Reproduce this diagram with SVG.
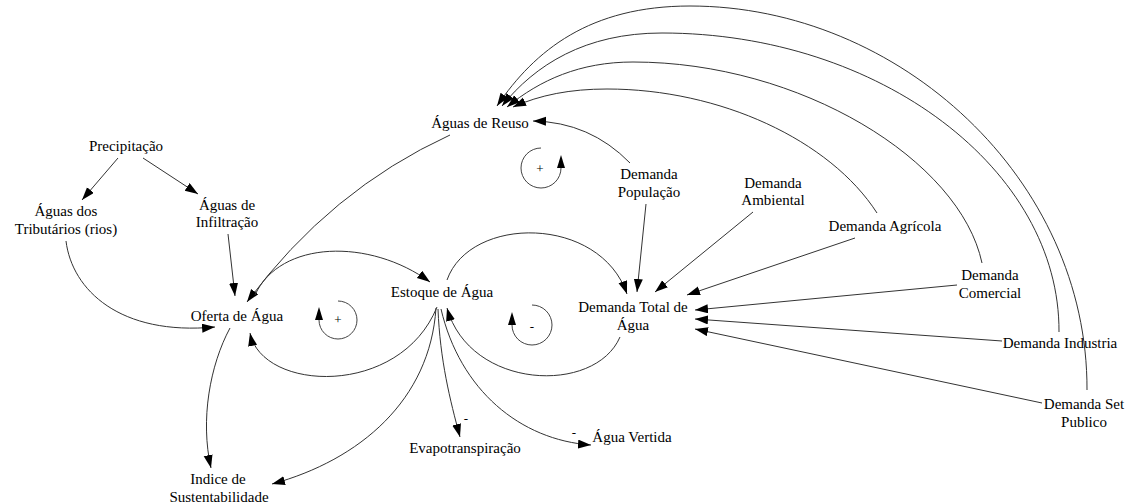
<svg xmlns="http://www.w3.org/2000/svg" width="1131" height="504" viewBox="0 0 1131 504">
  <style>
    .lbl { font-family: "Liberation Serif", "Times New Roman", serif; font-size: 15px; fill: #000; text-anchor: middle; }
    .sign { font-family: "Liberation Serif", "Times New Roman", serif; font-size: 13px; fill: #000; text-anchor: middle; }
    .link { fill: none; stroke: #333; stroke-width: 1; marker-end: url(#arrow); }
    .loop { fill: none; stroke: #444; stroke-width: 1; marker-end: url(#loopArrow); }
  </style>
  <defs>
    <marker id="arrow" markerUnits="userSpaceOnUse" markerWidth="14" markerHeight="10" refX="13" refY="4.5" orient="auto">
      <path d="M0,0 L13,4.5 L0,9 z" fill="#000"/>
    </marker>
    <marker id="loopArrow" markerUnits="userSpaceOnUse" markerWidth="14" markerHeight="10" refX="0" refY="4" orient="auto">
      <path d="M0,0 L13,4 L0,8 z" fill="#000"/>
    </marker>
  </defs>
  <rect width="1131" height="504" fill="#fff"/>

  <!-- connectors -->
  <g id="connectors">
    <path class="link" d="M118,158 L82,200"/>
    <path class="link" d="M143,158 L198,194"/>
    <path class="link" d="M66,241 C72,290 120,336 215,327"/>
    <path class="link" d="M228,234 L235,296"/>
    <path class="link" d="M450,135 Q330,190 247,302"/>
    <path class="link" d="M255,295 C280,240 370,238 430,282"/>
    <path class="link" d="M447,280 C470,215 600,215 627,294"/>
    <path class="link" d="M620,337 C595,395 470,390 447,308"/>
    <path class="link" d="M437,307 C400,398 262,392 250,333"/>
    <path class="link" d="M436,308 C430,400 360,460 272,484"/>
    <path class="link" d="M230,328 C210,365 200,420 211,468"/>
    <path class="link" d="M438,309 C440,360 450,400 460,437"/>
    <path class="link" d="M441,309 C460,390 520,440 591,445"/>
    <!-- demands into total demand -->
    <path class="link" d="M646,204 L637,292"/>
    <path class="link" d="M753,212 L655,292"/>
    <path class="link" d="M855,238 L687,295"/>
    <path class="link" d="M957,285 L695,310"/>
    <path class="link" d="M1002,341 L695,319"/>
    <path class="link" d="M1042,403 L695,329"/>
    <!-- demands into reuse -->
    <path class="link" d="M630,163 Q590,122 533,121"/>
    <path class="link" d="M1087,390 C1088,180 900,6 690,6 C590,6 535,50 497,106"/>
    <path class="link" d="M1059,332 C1060,170 880,33 662,33 C585,33 535,65 502,106"/>
    <path class="link" d="M982,263 C960,160 800,62 633,62 C580,62 540,80 507,107"/>
    <path class="link" d="M877,213 C830,140 720,89 607,89 C570,89 540,95 513,107"/>
    <!-- loop markers -->
    <path class="loop" d="M338,301 A19,19 0 1 1 319,320"/>
    <path class="loop" d="M541,148 A20,20 0 1 0 561,168"/>
    <path class="loop" d="M532,305 A20,20 0 1 1 512,325"/>
    <text class="sign" x="338" y="324">+</text>
    <text class="sign" x="540" y="173">+</text>
    <text class="sign" x="532" y="331">-</text>
    <text class="sign" x="466" y="423">-</text>
    <text class="sign" x="574" y="437">-</text>
  </g>

  <g id="precipitacao"><text class="lbl" x="126" y="151">Precipitação</text></g>
  <g id="aguas-tributarios"><text class="lbl" x="66" y="216">Águas dos</text><text class="lbl" x="66" y="234">Tributários (rios)</text></g>
  <g id="aguas-infiltracao"><text class="lbl" x="227" y="210">Águas de</text><text class="lbl" x="227" y="227">Infiltração</text></g>
  <g id="oferta-agua"><text class="lbl" x="237" y="321">Oferta de Água</text></g>
  <g id="estoque-agua"><text class="lbl" x="442" y="297">Estoque de Água</text></g>
  <g id="demanda-total"><text class="lbl" x="633" y="312">Demanda Total de</text><text class="lbl" x="633" y="330">Água</text></g>
  <g id="aguas-reuso"><text class="lbl" x="480" y="128">Águas de Reuso</text></g>
  <g id="demanda-populacao"><text class="lbl" x="649" y="179">Demanda</text><text class="lbl" x="649" y="197">População</text></g>
  <g id="demanda-ambiental"><text class="lbl" x="773" y="188">Demanda</text><text class="lbl" x="773" y="205">Ambiental</text></g>
  <g id="demanda-agricola"><text class="lbl" x="885" y="231">Demanda Agrícola</text></g>
  <g id="demanda-comercial"><text class="lbl" x="990" y="280">Demanda</text><text class="lbl" x="990" y="298">Comercial</text></g>
  <g id="demanda-industria"><text class="lbl" x="1060" y="348">Demanda Industria</text></g>
  <g id="demanda-set-publico"><text class="lbl" x="1084" y="409">Demanda Set</text><text class="lbl" x="1084" y="427">Publico</text></g>
  <g id="evapotranspiracao"><text class="lbl" x="465" y="453">Evapotranspiração</text></g>
  <g id="agua-vertida"><text class="lbl" x="632" y="442">Água Vertida</text></g>
  <g id="indice-sustentabilidade"><text class="lbl" x="218" y="484">Indice de</text><text class="lbl" x="219" y="502">Sustentabilidade</text></g>
</svg>
